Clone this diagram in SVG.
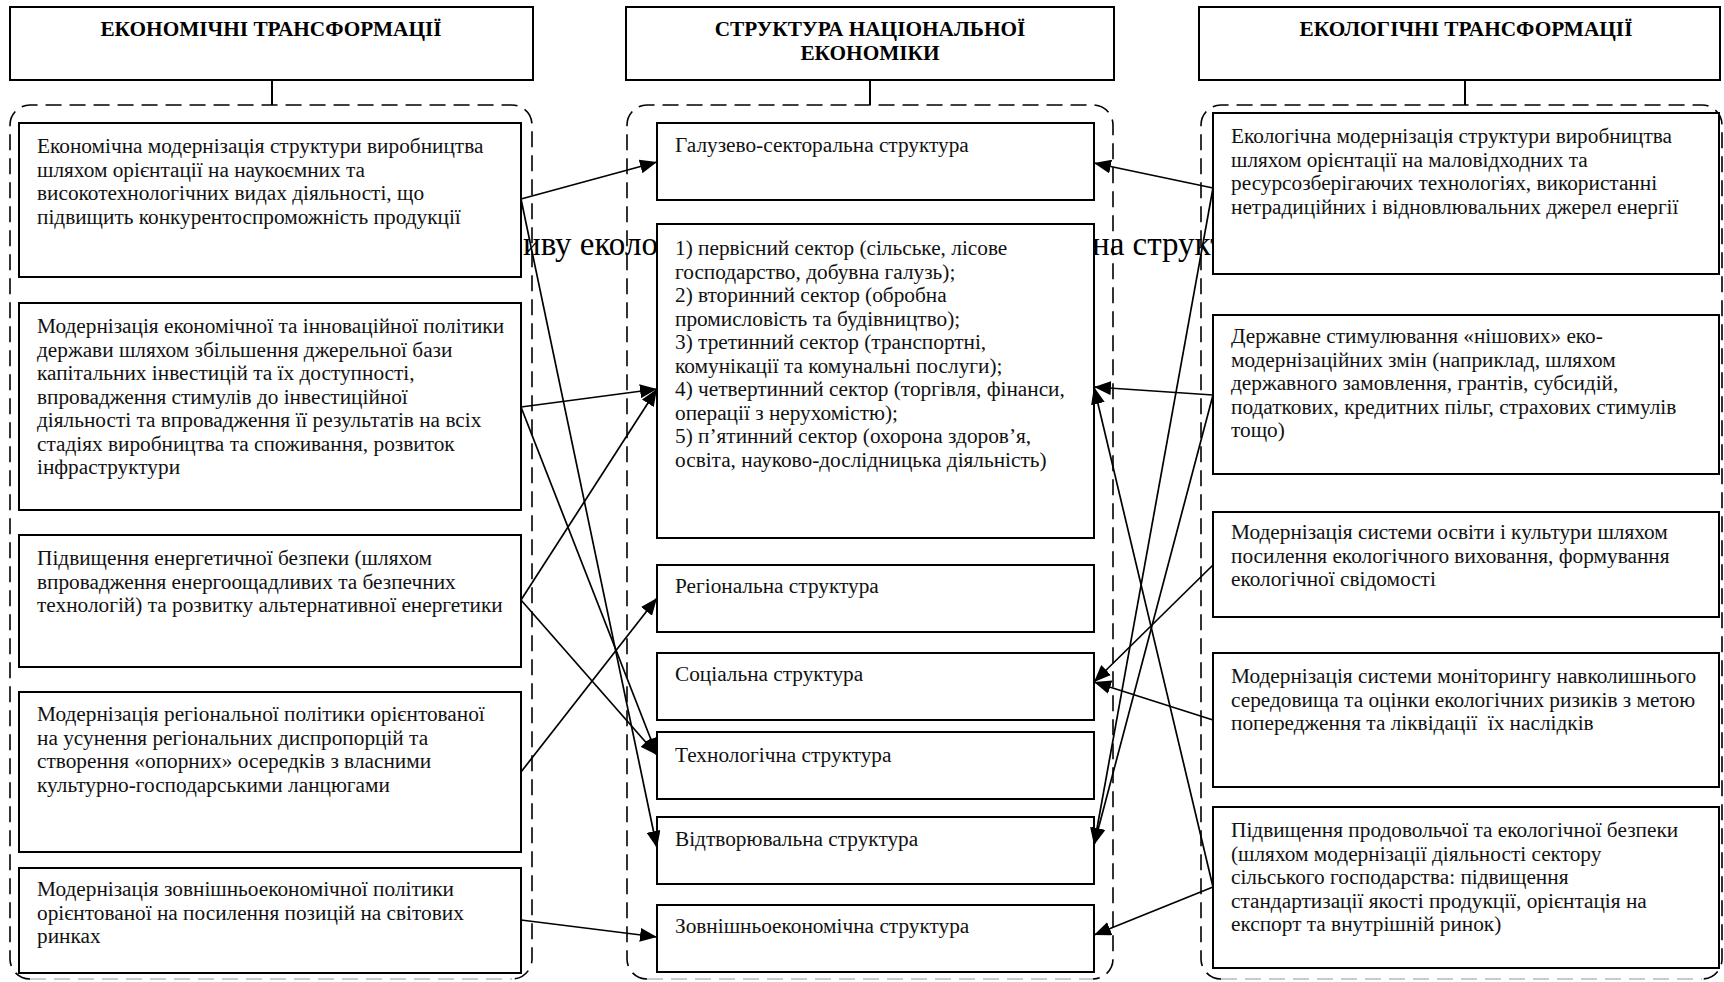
<svg xmlns="http://www.w3.org/2000/svg" width="1724" height="982" viewBox="0 0 1724 982" font-family="'Liberation Serif', 'DejaVu Serif', serif">
<style>
.box{fill:#fff;stroke:#000;stroke-width:2}
.hdr{fill:#fff;stroke:#000;stroke-width:2}
.cont{fill:none;stroke:#000;stroke-width:1.6;stroke-dasharray:16 8}
.contb{fill:none;stroke:#bbb;stroke-width:1.6;stroke-dasharray:16 8}
text{font-family:'Liberation Serif','DejaVu Serif',serif}
.t{font-size:21.3px;fill:#111}
.h{font-size:21.3px;font-weight:bold;fill:#000;text-anchor:middle}
.bg{font-size:33px;fill:#000}
.c line{stroke:#000;stroke-width:1.7;marker-end:url(#ah)}
.stem{stroke:#000;stroke-width:2}
</style>
<defs>
<marker id="ah" markerWidth="17" markerHeight="14" refX="17" refY="7" orient="auto" markerUnits="userSpaceOnUse">
<path d="M0,0 L17,7 L0,14 z" fill="#000"/>
</marker>
</defs>

<g id="background-text">
<text class="bg" x="523" y="255">иву еколо</text>
<text class="bg" x="1092" y="255">на структ</text>
</g>

<g id="containers">
<path class="cont" d="M30,979 A20,20 0 0 1 10,959 L10,125 A20,20 0 0 1 30,105 L512,105 A20,20 0 0 1 532,125 L532,959 A20,20 0 0 1 512,979"/>
<line class="contb" x1="30" y1="979" x2="512" y2="979"/>
<path class="cont" d="M647,979 A20,20 0 0 1 627,959 L627,125 A20,20 0 0 1 647,105 L1093,105 A20,20 0 0 1 1113,125 L1113,959 A20,20 0 0 1 1093,979"/>
<line class="contb" x1="647" y1="979" x2="1093" y2="979"/>
<path class="cont" d="M1221,979 A20,20 0 0 1 1201,959 L1201,125 A20,20 0 0 1 1221,105 L1702,105 A20,20 0 0 1 1722,125 L1722,959 A20,20 0 0 1 1702,979"/>
<line class="contb" x1="1221" y1="979" x2="1702" y2="979"/>
</g>

<g id="header-left">
<rect class="hdr" x="10" y="7" width="523" height="73"/>
<text class="h" x="271" y="36">ЕКОНОМІЧНІ ТРАНСФОРМАЦІЇ</text>
<line class="stem" x1="272" y1="80" x2="272" y2="105"/>
</g>
<g id="header-middle">
<rect class="hdr" x="626" y="7" width="488" height="73"/>
<text class="h" x="870" y="36">СТРУКТУРА НАЦІОНАЛЬНОЇ</text>
<text class="h" x="870" y="60">ЕКОНОМІКИ</text>
<line class="stem" x1="870" y1="80" x2="870" y2="105"/>
</g>
<g id="header-right">
<rect class="hdr" x="1199" y="7" width="521" height="73"/>
<text class="h" x="1466" y="36">ЕКОЛОГІЧНІ ТРАНСФОРМАЦІЇ</text>
<line class="stem" x1="1465" y1="80" x2="1465" y2="105"/>
</g>

<g id="L1">
<rect class="box" x="19" y="123" width="502" height="154"/>
<text class="t" x="37" y="153">Економічна модернізація структури виробництва</text>
<text class="t" x="37" y="176.5">шляхом орієнтації на наукоємних та</text>
<text class="t" x="37" y="200">високотехнологічних видах діяльності, що</text>
<text class="t" x="37" y="223.5">підвищить конкурентоспроможність продукції</text>
</g>
<g id="L2">
<rect class="box" x="19" y="303" width="502" height="207"/>
<text class="t" x="37" y="333">Модернізація економічної та інноваційної політики</text>
<text class="t" x="37" y="356.5">держави шляхом збільшення джерельної бази</text>
<text class="t" x="37" y="380">капітальних інвестицій та їх доступності,</text>
<text class="t" x="37" y="403.5">впровадження стимулів до інвестиційної</text>
<text class="t" x="37" y="427">діяльності та впровадження її результатів на всіх</text>
<text class="t" x="37" y="450.5">стадіях виробництва та споживання, розвиток</text>
<text class="t" x="37" y="474">інфраструктури</text>
</g>
<g id="L3">
<rect class="box" x="19" y="535" width="502" height="132"/>
<text class="t" x="37" y="565">Підвищення енергетичної безпеки (шляхом</text>
<text class="t" x="37" y="588.5">впровадження енергоощадливих та безпечних</text>
<text class="t" x="37" y="612">технологій) та розвитку альтернативної енергетики</text>
</g>
<g id="L4">
<rect class="box" x="19" y="692" width="502" height="160"/>
<text class="t" x="37" y="721">Модернізація регіональної політики орієнтованої</text>
<text class="t" x="37" y="744.5">на усунення регіональних диспропорцій та</text>
<text class="t" x="37" y="768">створення «опорних» осередків з власними</text>
<text class="t" x="37" y="791.5">культурно-господарськими ланцюгами</text>
</g>
<g id="L5">
<rect class="box" x="19" y="868" width="502" height="105"/>
<text class="t" x="37" y="896">Модернізація зовнішньоекономічної політики</text>
<text class="t" x="37" y="919.5">орієнтованої на посилення позицій на світових</text>
<text class="t" x="37" y="943">ринках</text>
</g>

<g id="M1">
<rect class="box" x="657" y="123" width="437" height="77"/>
<text class="t" x="675" y="152">Галузево-секторальна структура</text>
</g>
<g id="M2">
<rect class="box" x="657" y="224" width="437" height="314"/>
<text class="t" x="675" y="255">1) первісний сектор (сільське, лісове</text>
<text class="t" x="675" y="278.5">господарство, добувна галузь);</text>
<text class="t" x="675" y="302">2) вторинний сектор (обробна</text>
<text class="t" x="675" y="325.5">промисловість та будівництво);</text>
<text class="t" x="675" y="349">3) третинний сектор (транспортні,</text>
<text class="t" x="675" y="372.5">комунікації та комунальні послуги);</text>
<text class="t" x="675" y="396">4) четвертинний сектор (торгівля, фінанси,</text>
<text class="t" x="675" y="419.5">операції з нерухомістю);</text>
<text class="t" x="675" y="443">5) п’ятинний сектор (охорона здоров’я,</text>
<text class="t" x="675" y="466.5">освіта, науково-дослідницька діяльність)</text>
</g>
<g id="M3">
<rect class="box" x="657" y="565" width="437" height="67"/>
<text class="t" x="675" y="593">Регіональна структура</text>
</g>
<g id="M4">
<rect class="box" x="657" y="653" width="437" height="67"/>
<text class="t" x="675" y="681">Соціальна структура</text>
</g>
<g id="M5">
<rect class="box" x="657" y="732" width="437" height="67"/>
<text class="t" x="675" y="762">Технологічна структура</text>
</g>
<g id="M6">
<rect class="box" x="657" y="817" width="437" height="67"/>
<text class="t" x="675" y="846">Відтворювальна структура</text>
</g>
<g id="M7">
<rect class="box" x="657" y="905" width="437" height="67"/>
<text class="t" x="675" y="933">Зовнішньоекономічна структура</text>
</g>

<g id="R1">
<rect class="box" x="1213" y="113" width="506" height="161"/>
<text class="t" x="1231" y="143">Екологічна модернізація структури виробництва</text>
<text class="t" x="1231" y="166.5">шляхом орієнтації на маловідходних та</text>
<text class="t" x="1231" y="190">ресурсозберігаючих технологіях, використанні</text>
<text class="t" x="1231" y="213.5">нетрадиційних і відновлювальних джерел енергії</text>
</g>
<g id="R2">
<rect class="box" x="1213" y="315" width="506" height="159"/>
<text class="t" x="1231" y="343">Державне стимулювання «нішових» еко-</text>
<text class="t" x="1231" y="366.5">модернізаційних змін (наприклад, шляхом</text>
<text class="t" x="1231" y="390">державного замовлення, грантів, субсидій,</text>
<text class="t" x="1231" y="413.5">податкових, кредитних пільг, страхових стимулів</text>
<text class="t" x="1231" y="437">тощо)</text>
</g>
<g id="R3">
<rect class="box" x="1213" y="512" width="506" height="105"/>
<text class="t" x="1231" y="539">Модернізація системи освіти і культури шляхом</text>
<text class="t" x="1231" y="562.5">посилення екологічного виховання, формування</text>
<text class="t" x="1231" y="586">екологічної свідомості</text>
</g>
<g id="R4">
<rect class="box" x="1213" y="653" width="506" height="134"/>
<text class="t" x="1231" y="683">Модернізація системи моніторингу навколишнього</text>
<text class="t" x="1231" y="706.5">середовища та оцінки екологічних ризиків з метою</text>
<text class="t" x="1231" y="730" style="white-space:pre">попередження та ліквідації  їх наслідків</text>
</g>
<g id="R5">
<rect class="box" x="1213" y="807" width="506" height="161"/>
<text class="t" x="1231" y="837">Підвищення продовольчої та екологічної безпеки</text>
<text class="t" x="1231" y="860.5">(шляхом модернізації діяльності сектору</text>
<text class="t" x="1231" y="884">сільського господарства: підвищення</text>
<text class="t" x="1231" y="907.5">стандартизації якості продукції, орієнтація на</text>
<text class="t" x="1231" y="931">експорт та внутрішній ринок)</text>
</g>

<g id="connectors" class="c">
<line x1="521" y1="199" x2="657" y2="162"/>
<line x1="521" y1="199" x2="657" y2="848"/>
<line x1="521" y1="407" x2="657" y2="389"/>
<line x1="521" y1="407" x2="657" y2="755"/>
<line x1="521" y1="600" x2="657" y2="389"/>
<line x1="521" y1="600" x2="657" y2="755"/>
<line x1="521" y1="772" x2="657" y2="598"/>
<line x1="521" y1="920" x2="657" y2="937"/>
<line x1="1213" y1="188" x2="1094" y2="163"/>
<line x1="1213" y1="188" x2="1094" y2="845"/>
<line x1="1213" y1="395" x2="1094" y2="387"/>
<line x1="1213" y1="395" x2="1094" y2="845"/>
<line x1="1213" y1="565" x2="1094" y2="682"/>
<line x1="1213" y1="720" x2="1094" y2="682"/>
<line x1="1213" y1="887" x2="1094" y2="935"/>
<line x1="1213" y1="887" x2="1094" y2="387"/>
</g>
</svg>
